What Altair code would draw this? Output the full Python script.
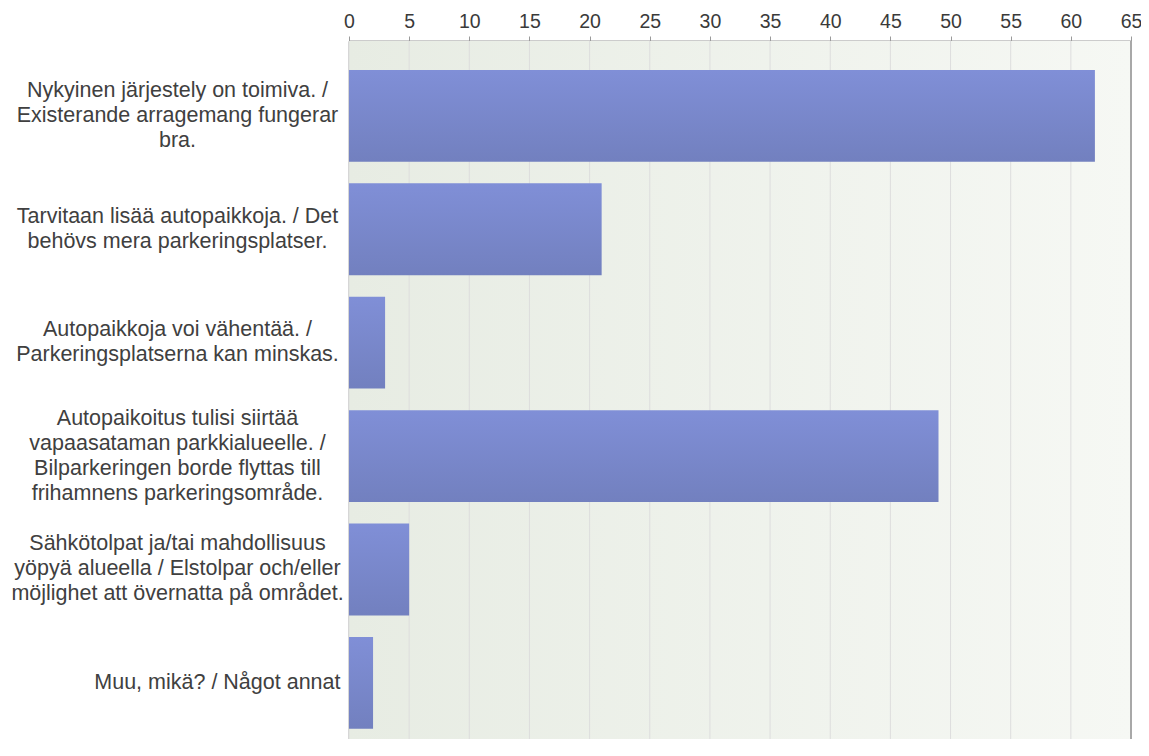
import altair as alt
import pandas as pd

categories = [
    "Nykyinen järjestely on toimiva. /\nExisterande arragemang fungerar\nbra.",
    "Tarvitaan lisää autopaikkoja. / Det\nbehövs mera parkeringsplatser.",
    "Autopaikkoja voi vähentää. /\nParkeringsplatserna kan minskas.",
    "Autopaikoitus tulisi siirtää\nvapaasataman parkkialueelle. /\nBilparkeringen borde flyttas till\nfrihamnens parkeringsområde.",
    "Sähkötolpat ja/tai mahdollisuus\nyöpyä alueella / Elstolpar och/eller\nmöjlighet att övernatta på området.",
    "Muu, mikä? / Något annat",
]
counts = [62, 21, 3, 49, 5, 2]
tick_values = [0, 5, 10, 15, 20, 25, 30, 35, 40, 45, 50, 55, 60, 65]

W, H = 782, 698
FONT = "Liberation Sans"
LINE_H = 25

df = pd.DataFrame({"answer": categories, "count": counts})
ticks_df = pd.DataFrame({"tick": tick_values})
xmax = tick_values[-1]

x_scale = alt.Scale(domain=[0, xmax], nice=False, zero=True)
x_axis = alt.Axis(
    orient="top", values=tick_values, grid=False, title=None,
    labelFont=FONT, labelFontSize=19.5, labelColor="#3A3A3A",
    labelFlush=False, labelPadding=5, labelOverlap=False,
    tickSize=5, tickColor="#9A9A9A", tickWidth=1,
    domainColor="#9A9A9A", domainWidth=2,
)

n_lines = "length(split(datum.value, '\\n'))"
single_line = f"{n_lines} == 1"
y_axis = alt.Axis(
    title=None, ticks=False, tickSize=0,
    domain=True, domainColor="#A0A0A0", domainWidth=2,
    labelExpr="split(datum.label, '\\n')",
    labelLineHeight=LINE_H, labelFont=FONT, labelFontSize=21.5,
    labelColor="#404040", labelLimit=500, labelBaseline="middle",
    labelAlign={"condition": {"test": single_line, "value": "right"}, "value": "center"},
    labelPadding={"condition": {"test": single_line, "value": 9}, "value": 172},
    labelOffset={
        "condition": [
            {"test": f"{n_lines} == 4", "value": -1.5 * LINE_H},
            {"test": f"{n_lines} == 3", "value": -1.0 * LINE_H},
            {"test": f"{n_lines} == 2", "value": -0.5 * LINE_H},
        ],
        "value": 0,
    },
)

bg = alt.Chart(pd.DataFrame({"v": [0]})).mark_rect(
    fill=alt.Gradient(
        gradient="linear",
        stops=[alt.GradientStop(color="#E7ECE3", offset=0),
               alt.GradientStop(color="#F6F8F4", offset=1)],
        x1=0, x2=1, y1=0, y2=0,
    )
).encode(x=alt.value(0), x2=alt.value(W), y=alt.value(0), y2=alt.value(H))

grid = alt.Chart(ticks_df).mark_rule().encode(
    x=alt.X("tick:Q", scale=x_scale, axis=x_axis),
    y=alt.value(0), y2=alt.value(H),
    color=alt.condition(f"datum.tick == {xmax}", alt.value("#A8A8A8"), alt.value("#DDDDDD")),
    strokeWidth=alt.condition(f"datum.tick == {xmax}", alt.value(2), alt.value(1)),
)

bars = alt.Chart(df).mark_bar(
    color=alt.Gradient(
        gradient="linear",
        stops=[alt.GradientStop(color="#808FD7", offset=0),
               alt.GradientStop(color="#7280BF", offset=1)],
        x1=0, x2=0, y1=0, y2=1,
    )
).encode(
    x=alt.X("count:Q", scale=x_scale, axis=x_axis),
    y=alt.Y("answer:N", sort=categories,
            scale=alt.Scale(paddingInner=0.19, paddingOuter=0.1726, align=0.74),
            axis=y_axis),
)

chart = alt.layer(bg, grid, bars).properties(
    width=W, height=H,
    padding={"left": 341, "top": 33, "right": 10, "bottom": 0},
    autosize=alt.AutoSizeParams(type="none"),
).configure_view(stroke=None)

chart.save("out.html", embed_options={"renderer": "svg", "actions": False})
